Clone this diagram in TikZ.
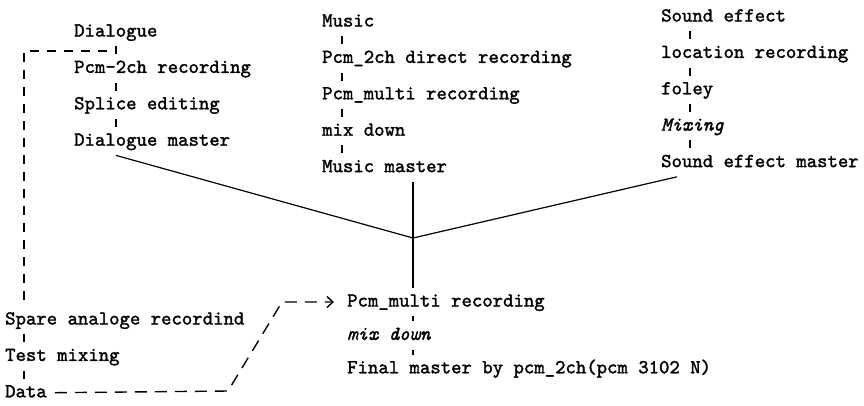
\documentclass[tikz,border=0pt]{standalone}
\usepackage{fontspec}
\usetikzlibrary{positioning,arrows.meta}
\newfontfamily\typer{lmmono10-regular.otf}[FakeBold=1.6, ItalicFont=lmmono10-italic.otf]

\begin{document}
\begin{tikzpicture}[
  x=1pt, y=-1pt,
  node distance=8pt,
  stage/.style={anchor=west, inner xsep=0pt, inner ysep=5.5pt,
                text height=13pt, text depth=4pt,
                font=\fontsize{19.8}{22}\selectfont\typer},
  tick/.style={line width=1.3pt},
  trunk/.style={line width=1.2pt},
  spare/.style={line width=1.4pt, dash pattern=on 9pt off 8pt}
]
\useasboundingbox (0,0) rectangle (864,405);

% columns where the short ticks stand
\coordinate (dlgx) at (116,0);
\coordinate (musx) at (342,0);
\coordinate (sfxx) at (690,0);
\coordinate (sparx) at (24,0);
\coordinate (join) at (413,238);
\coordinate (sfxend) at (677,0);

% dialogue
\node[stage] (dlg) at (74,32) {Dialogue};
\node[stage, below=of dlg.south west, anchor=north west] (dlgrec) {Pcm-2ch recording};
\node[stage, below=of dlgrec.south west, anchor=north west] (dlgedit) {Splice editing};
\node[stage, below=of dlgedit.south west, anchor=north west] (dlgm) {Dialogue master};

% music
\node[stage] (mus) at (322,22) {Music};
\node[stage, below=of mus.south west, anchor=north west] (musdir) {Pcm\_2ch direct recording};
\node[stage, below=of musdir.south west, anchor=north west] (musmul) {Pcm\_multi recording};
\node[stage, below=of musmul.south west, anchor=north west] (musmix) {mix down};
\node[stage, below=of musmix.south west, anchor=north west] (musm) {Music master};

% sound effect
\node[stage] (sfx) at (661,17) {Sound effect};
\node[stage, below=of sfx.south west, anchor=north west] (sfxloc) {location recording};
\node[stage, below=of sfxloc.south west, anchor=north west] (sfxfol) {foley};
\node[stage, below=of sfxfol.south west, anchor=north west] (sfxmix) {\itshape Mixing};
\node[stage, below=of sfxmix.south west, anchor=north west] (sfxm) {Sound effect master};

% spare
\node[stage] (spa) at (5,320) {Spare analoge recordind};
\node[stage, below=of spa.south west, anchor=north west] (test) {Test mixing};
\node[stage, below=of test.south west, anchor=north west] (data) {Data};

% final
\node[stage] (fmul) at (347,302) {Pcm\_multi recording};
\node[stage, below=5pt of fmul.south west, anchor=north west] (fmix) {\itshape mix down};
\node[stage, below=5pt of fmix.south west, anchor=north west] (final) {Final master by pcm\_2ch(pcm 3102 N)};

% ticks
\draw[tick] (dlg.south -| dlgx) -- (dlgrec.north -| dlgx);
\draw[tick] (dlgrec.south -| dlgx) -- (dlgedit.north -| dlgx);
\draw[tick] (dlgedit.south -| dlgx) -- (dlgm.north -| dlgx);
\draw[tick] (mus.south -| musx) -- (musdir.north -| musx);
\draw[tick] (musdir.south -| musx) -- (musmul.north -| musx);
\draw[tick] (musmul.south -| musx) -- (musmix.north -| musx);
\draw[tick] (musmix.south -| musx) -- (musm.north -| musx);
\draw[tick] (sfx.south -| sfxx) -- (sfxloc.north -| sfxx);
\draw[tick] (sfxloc.south -| sfxx) -- (sfxfol.north -| sfxx);
\draw[tick] (sfxfol.south -| sfxx) -- (sfxmix.north -| sfxx);
\draw[tick] (sfxmix.south -| sfxx) -- (sfxm.north -| sfxx);
\draw[tick] (spa.south -| sparx) -- (test.north -| sparx);
\draw[tick] (test.south -| sparx) -- (data.north -| sparx);
\draw[tick] (fmul.south -| join) -- (fmix.north -| join);
\draw[tick] (fmix.south -| join) -- (final.north -| join);

% the three masters meet
\draw[trunk] (dlgm.south -| dlgx) -- (join) -- (sfxm.south -| sfxend);
\draw[trunk] (musm.south -| join) -- (join) -- (fmul.north -| join);

% spare analogue path
\coordinate (tap) at (107,51);
\coordinate (bendA) at (228,391);
\coordinate (bendB) at (282,302);
\draw[spare] (tap) -| (spa.north -| sparx);
\draw[spare, dash pattern=on 12pt off 8pt,
      -{Straight Barb[length=6pt,width=11pt]}, shorten <=8pt, shorten >=13pt]
  (data.east) -- (bendA) -- (bendB) -- (fmul.west);
\end{tikzpicture}
\end{document}
